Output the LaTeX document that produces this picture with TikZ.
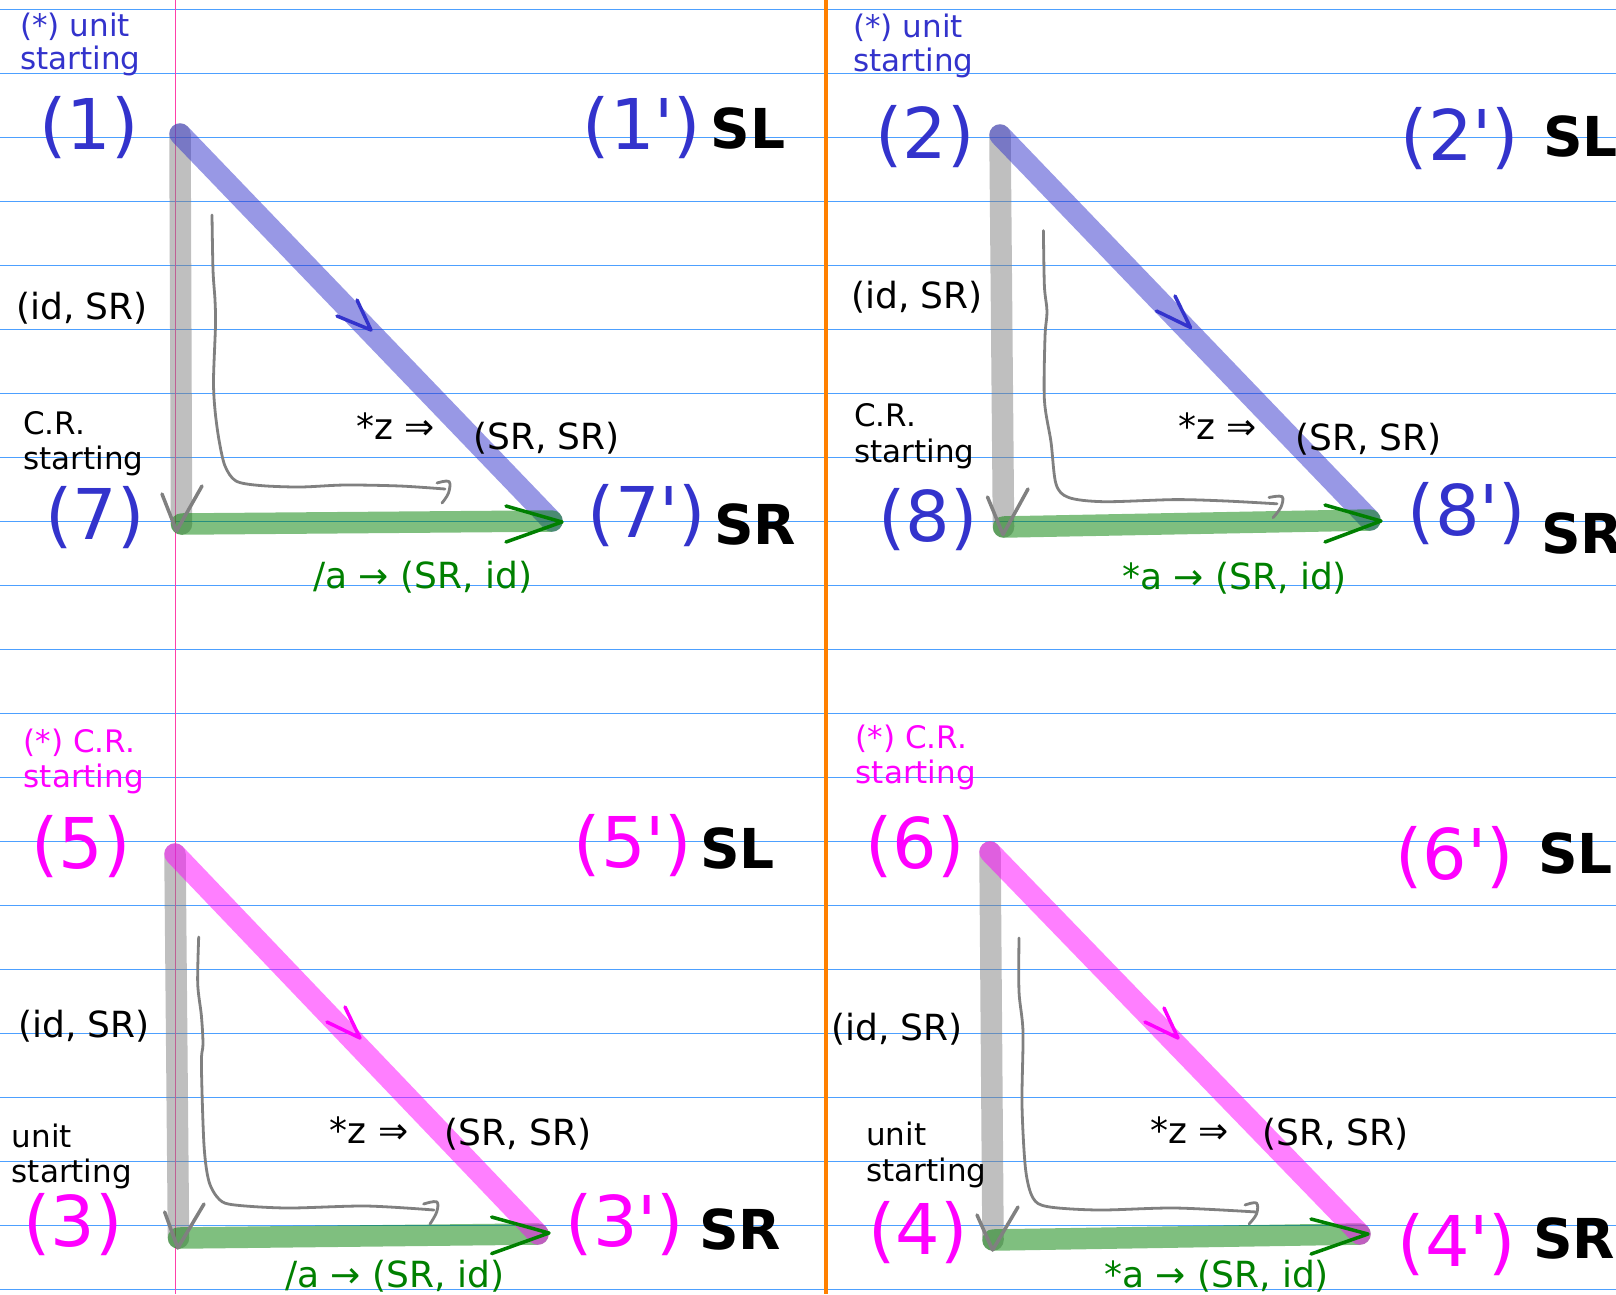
\documentclass[tikz,border=0pt]{standalone}
\usepackage{fontspec}
\setmainfont{DejaVu Sans}[Ligatures=TeXOff]
\definecolor{rulecol}{RGB}{77,160,255}
\definecolor{pinkline}{RGB}{255,64,170}
\definecolor{orangeline}{RGB}{255,128,0}
\definecolor{bluetxt}{RGB}{51,51,204}
\definecolor{magtxt}{RGB}{255,0,255}
\definecolor{greentxt}{RGB}{0,128,0}
\definecolor{graytip}{RGB}{128,128,128}
\tikzset{
  rule/.style={draw=rulecol, line width=1.5pt},
  thick edge/.style={line width=21.5pt, line cap=round, draw opacity=0.5},
  grayedge/.style={thick edge, draw=graytip},
  blueedge/.style={thick edge, draw=bluetxt},
  magedge/.style={thick edge, draw=magtxt},
  greenedge/.style={thick edge, draw=greentxt},
  tipline/.style={line width=3.5pt, line cap=round, line join=round},
  thinl/.style={draw=graytip, line width=2.8pt, line cap=round, line join=round},
  big/.style={font=\fontsize{70}{84}\selectfont, inner sep=0pt},
  boldlbl/.style={font=\fontsize{55}{66}\selectfont\bfseries, inner sep=0pt},
  mid/.style={font=\fontsize{36}{43}\selectfont, inner sep=0pt, anchor=base west},
  small/.style={font=\fontsize{31}{34}\selectfont, inner sep=0pt, anchor=base west},
}
\begin{document}
\begin{tikzpicture}[x=1pt,y=-1pt]
\useasboundingbox (0,0) rectangle (1616,1294);
\fill[white] (0,0) rectangle (1616,1294);
% ruled lines
\foreach \k in {0,...,20} {
  \draw[rule] (0,{9.5+64*\k}) -- (1616,{9.5+64*\k});
}
\draw[pinkline, line width=1.3pt] (175.7,0) -- (175.7,1294);
\draw[orangeline, line width=3.5pt] (826,0) -- (826,1294);

% ================= Panel 1 =================
\coordinate (t1) at (180,134);
\coordinate (bl1) at (181.5,524);
\coordinate (br1) at (552,521);
\draw[grayedge] (t1) -- (bl1);
\draw[blueedge] (t1) -- (br1);
\draw[greenedge] (bl1) -- (br1);
\draw[tipline, graytip] (162,494) -- (176.5,531) -- (202,486);
\draw[tipline, greentxt] (506,506) -- (562,522) -- (506,542);
\draw[tipline, bluetxt] (337,316) -- (371,330) -- (357,300);
\draw[thinl] plot[smooth, tension=0.5] coordinates {(212,215) (213,270) (215,300) (215.5,325) (213.5,380) (215,410) (219,440) (225,466) (236,481) (260,485.5) (300,487) (345,485) (400,486) (445,489)};
\draw[thinl] plot[smooth, tension=0.6] coordinates {(437,483) (449,481.5) (448.5,493) (442,503)};
\node[small, text=bluetxt] (u1a) at (20,36) {(*) unit};
\node[small, text=bluetxt] (u1b) at (20,69) {starting};
\node[big, text=bluetxt] (n1) at (89,127.5) {(1)};
\node[big, text=bluetxt] (n1p) at (642,127.5) {(1')};
\node[boldlbl] (sl1) at (748,128.5) {SL};
\node[mid] (id1) at (16,319) {(id, SR)};
\node[small] (c1a) at (23,434) {C.R.};
\node[small] (c1b) at (23,469) {starting};
\node[big, text=bluetxt] (n7) at (95,517.5) {(7)};
\node[big, text=bluetxt] (n7p) at (647,516) {(7')};
\node[boldlbl] (sr1) at (755,524) {SR};
\node[mid] (z1) at (356,439) {*z ⇒};
\node[mid] (ss1) at (473,449) {(SR, SR)};
\node[mid, text=greentxt] (a1) at (313,588) {/a → (SR, id)};

% ================= Panel 2 =================
\coordinate (t2) at (1000,135);
\coordinate (bl2) at (1003.5,527);
\coordinate (br2) at (1370,520);
\draw[grayedge] (t2) -- (bl2);
\draw[blueedge] (t2) -- (br2);
\draw[greenedge] (bl2) -- (br2);
\draw[tipline, graytip] (987.5,497) -- (1003,534.5) -- (1028,489);
\draw[tipline, greentxt] (1325,505) -- (1381,521) -- (1325,542);
\draw[tipline, bluetxt] (1156.5,311) -- (1190.5,327.5) -- (1175,296);
\draw[thinl] plot[smooth, tension=0.5] coordinates {(1043.4,230.6) (1044.4,286) (1047,311.5) (1045,336.7) (1044.4,400) (1051,442) (1056,484) (1068.7,497.5) (1104,501.7) (1175,499.6) (1226,501) (1277,503.8)};
\draw[thinl] plot[smooth, tension=0.6] coordinates {(1269,497.5) (1282,496.6) (1281,507) (1273,517.7)};
\node[small, text=bluetxt] (u2a) at (853,37) {(*) unit};
\node[small, text=bluetxt] (u2b) at (853,71) {starting};
\node[big, text=bluetxt] (n2) at (925,136.5) {(2)};
\node[big, text=bluetxt] (n2p) at (1460,138.5) {(2')};
\node[boldlbl, anchor=west] (sl2) at (1543,136) {SL};
\node[mid] (id2) at (851,308) {(id, SR)};
\node[small] (c2a) at (854,426) {C.R.};
\node[small] (c2b) at (854,462) {starting};
\node[big, text=bluetxt] (n8) at (928,519.5) {(8)};
\node[big, text=bluetxt] (n8p) at (1467,513.5) {(8')};
\node[boldlbl, anchor=west] (sr2) at (1541,533.5) {SR};
\node[mid] (z2) at (1178,439) {*z ⇒};
\node[mid] (ss2) at (1295,450) {(SR, SR)};
\node[mid, text=greentxt] (a2) at (1122,589) {*a → (SR, id)};

% ================= Panel 3 =================
\coordinate (t3) at (175,854);
\coordinate (bl3) at (178.5,1238);
\coordinate (br3) at (538,1234);
\draw[grayedge] (t3) -- (bl3);
\draw[greenedge] (bl3) -- (br3);
\draw[magedge] (t3) -- (br3);
\draw[tipline, graytip] (164.7,1212) -- (177.8,1248) -- (204,1204);
\draw[tipline, greentxt] (491.6,1217) -- (549,1233) -- (491.6,1253.6);
\draw[tipline, magtxt] (327,1022) -- (360,1038) -- (345,1007);
\draw[thinl] plot[smooth, tension=0.5] coordinates {(198.7,937) (197.7,983.5) (201.4,1015.8) (203,1044) (201.4,1064) (204,1145) (209,1181.6) (219.7,1199.8) (235,1205) (287.7,1208) (366,1206) (434,1210)};
\draw[thinl] plot[smooth, tension=0.6] coordinates {(423.6,1204) (436.7,1201.8) (436.7,1212) (430,1224)};
\node[small, text=magtxt] (u3a) at (23.5,752) {(*) C.R.};
\node[small, text=magtxt] (u3b) at (23.5,787) {starting};
\node[big, text=magtxt] (n5) at (81,847) {(5)};
\node[big, text=magtxt] (n5p) at (633,846) {(5')};
\node[boldlbl] (sl3) at (737.5,848) {SL};
\node[mid] (id3) at (18,1037) {(id, SR)};
\node[small] (c3a) at (11.5,1147) {unit};
\node[small] (c3b) at (11.5,1182.5) {starting};
\node[big, text=magtxt] (n3) at (73,1225) {(3)};
\node[big, text=magtxt] (n3p) at (625,1225) {(3')};
\node[boldlbl] (sr3) at (740,1229) {SR};
\node[mid] (z3) at (329.5,1143) {*z ⇒};
\node[mid] (ss3) at (444.6,1145) {(SR, SR)};
\node[mid, text=greentxt] (a3) at (285,1287) {/a → (SR, id)};

% ================= Panel 4 =================
\coordinate (t4) at (990,852);
\coordinate (bl4) at (993,1240);
\coordinate (br4) at (1360,1234);
\draw[grayedge] (t4) -- (bl4);
\draw[greenedge] (bl4) -- (br4);
\draw[magedge] (t4) -- (br4);
\draw[tipline, graytip] (977,1215) -- (992.6,1250) -- (1018,1207);
\draw[tipline, greentxt] (1311,1219) -- (1368,1234) -- (1311,1254);
\draw[tipline, magtxt] (1145,1022) -- (1178,1038) -- (1164,1008);
\draw[thinl] plot[smooth, tension=0.5] coordinates {(1019,938) (1019,991.6) (1023,1032) (1022,1104.8) (1025.6,1169.5) (1033,1198) (1048,1206.7) (1099,1210) (1175,1208) (1256.5,1212)};
\draw[thinl] plot[smooth, tension=0.6] coordinates {(1245,1205) (1256.5,1203) (1256.5,1214) (1249,1224)};
\node[small, text=magtxt] (u4a) at (855.5,748) {(*) C.R.};
\node[small, text=magtxt] (u4b) at (855.5,783) {starting};
\node[big, text=magtxt] (n6) at (915,847) {(6)};
\node[big, text=magtxt] (n6p) at (1454.5,858) {(6')};
\node[boldlbl, anchor=west] (sl4) at (1538,853) {SL};
\node[mid] (id4) at (831,1040) {(id, SR)};
\node[small] (c4a) at (866,1145) {unit};
\node[small] (c4b) at (866,1181) {starting};
\node[big, text=magtxt] (n4) at (918,1233) {(4)};
\node[big, text=magtxt] (n4p) at (1457,1244.5) {(4')};
\node[boldlbl, anchor=west] (sr4) at (1533,1238) {SR};
\node[mid] (z4) at (1150,1143) {*z ⇒};
\node[mid] (ss4) at (1262,1145) {(SR, SR)};
\node[mid, text=greentxt] (a4) at (1104,1287) {*a → (SR, id)};
\end{tikzpicture}
\end{document}
